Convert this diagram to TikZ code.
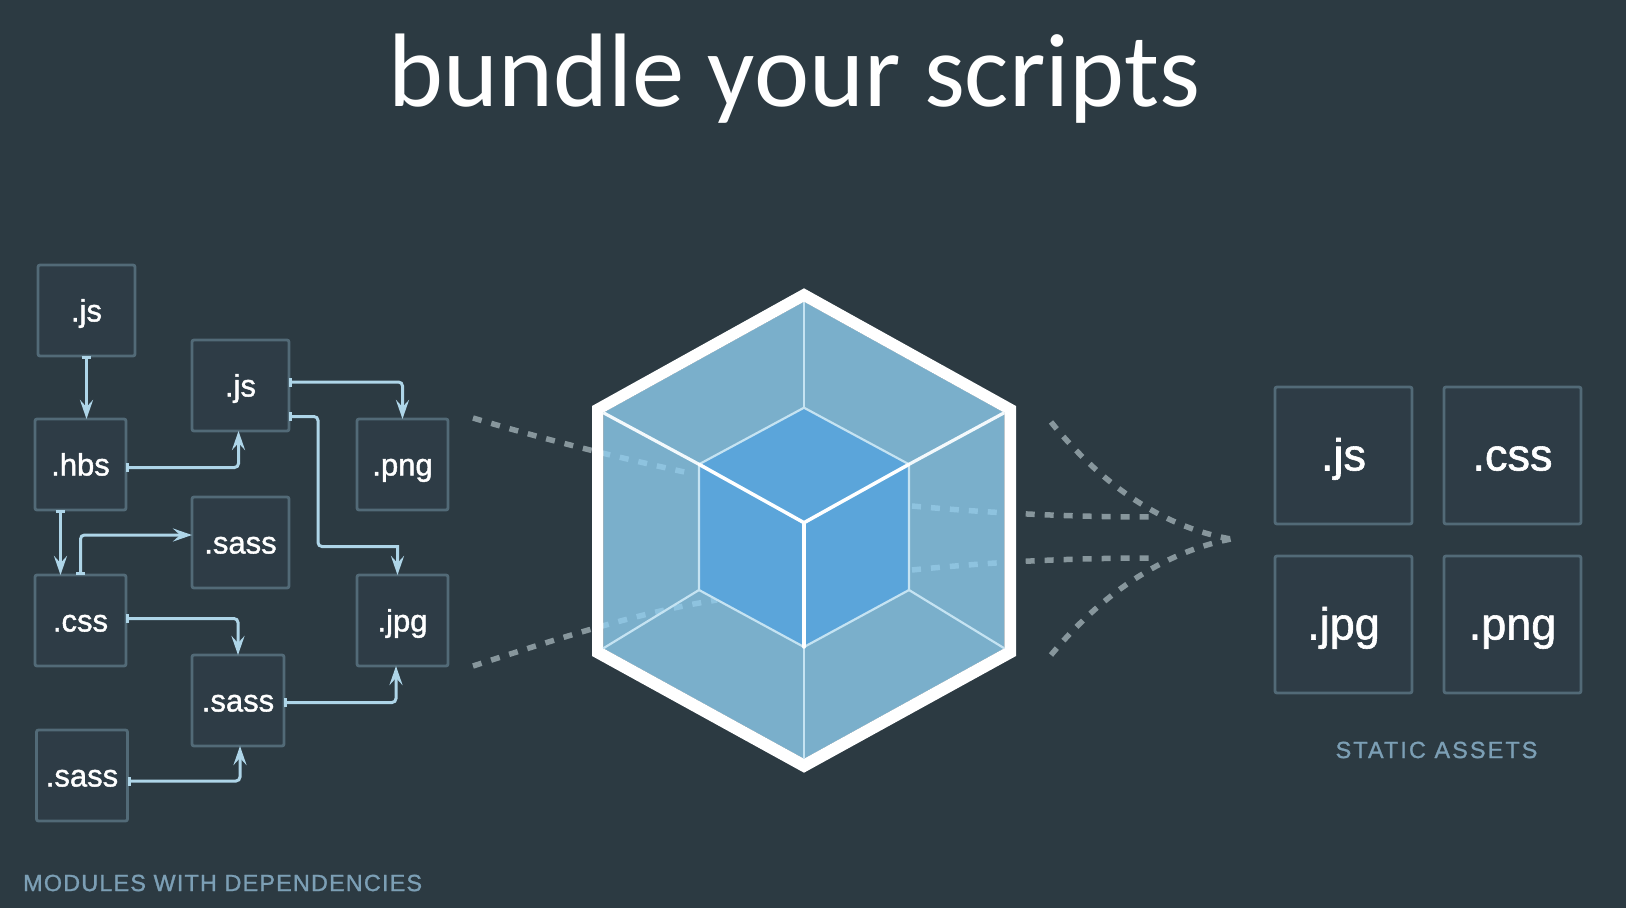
\documentclass[tikz,border=0pt]{standalone}
\usepackage{fontspec}
\usetikzlibrary{positioning, arrows.meta}
\setmainfont{Liberation Sans}
\newfontfamily\titlefont{Carlito}
\newfontfamily\boxfont[FakeBold=1.3]{Liberation Sans}
\newfontfamily\capsfont[LetterSpace=5,FakeBold=1.2]{Liberation Sans}
\newfontfamily\capswide[LetterSpace=9,FakeBold=1.2]{Liberation Sans}
\definecolor{pagebg}{HTML}{2C3A42}
\definecolor{boxfill}{HTML}{2E3C46}
\definecolor{boxline}{HTML}{526A77}
\definecolor{linkblue}{HTML}{AED5E8}
\definecolor{capblue}{HTML}{7C9FB5}
\definecolor{dashgrey}{HTML}{87969C}
\definecolor{facelight}{HTML}{91D0F2}
\definecolor{cubeblue}{HTML}{5BA5DA}
\definecolor{edgelight}{HTML}{C5E3F2}
\tikzset{
	modbox/.style={draw=boxline, fill=boxfill, line width=2.8pt, rounded corners=2pt, outer sep=0pt, inner sep=0pt,
		minimum width=91pt, minimum height=91pt, text=white, font=\boxfont\fontsize{31}{31}\selectfont, text height=23pt, text depth=1pt},
	assetbox/.style={modbox, minimum width=137pt, minimum height=137pt, font=\boxfont\fontsize{45}{45}\selectfont, text height=33pt, text depth=3pt},
	caplabel/.style={text=capblue, inner sep=0pt, font=\capsfont\fontsize{23.4}{24}\selectfont},
	link/.style={draw=linkblue, line width=3pt, rounded corners=4pt, {Bar[width=9pt]}-{Stealth[length=19pt,width=13pt,inset=7pt]}},
	flow/.style={draw=dashgrey, line width=5.5pt, dash pattern=on 9pt off 10pt},
	thinedge/.style={draw=edgelight, line width=2.2pt},
	spoke/.style={draw=white!80!edgelight, line width=3.2pt},
	thickedge/.style={draw=white, line width=3.5pt, line cap=round},
}
\begin{document}
\begin{tikzpicture}[x=1pt, y=-1pt]
	\useasboundingbox (0,0) rectangle (1626,908);
	\fill[pagebg] (0,0) rectangle (1626,908);
	%
	\node[text=white, inner sep=0pt, font=\titlefont\fontsize{104.5}{104.5}\selectfont] (title) at (794.5,79) {bundle your scripts};
	%
	\node[modbox, minimum width=97pt] (jsa) at (86.5,310.5) {.js};
	\node[modbox, below=63pt of jsa, xshift=-6pt] (hbs) {.hbs};
	\node[modbox, below=65pt of hbs] (css) {.css};
	\node[modbox, below=64pt of css, xshift=1.5pt] (sassc) {.sass};
	\node[modbox, minimum width=97pt, right=57pt of jsa, yshift=-75pt] (jsb) {.js};
	\node[modbox, minimum width=97pt, below=66pt of jsb] (sassa) {.sass};
	\node[modbox, minimum width=92pt, below=67pt of sassa, xshift=-2.5pt] (sassb) {.sass};
	\node[modbox, right=68pt of jsb, yshift=-79pt] (png) {.png};
	\node[modbox, below=65pt of png] (jpg) {.jpg};
	\node[caplabel, anchor=west] (modules) at (23,883) {MODULES WITH DEPENDENCIES};
	%
	\draw[link] (jsa.south) -- (jsa.south |- hbs.north);
	\draw[link] ([yshift=-3pt]hbs.east) -| ([xshift=-2pt]jsb.south);
	\draw[link] ([yshift=3.5pt]jsb.east) -| (png.north);
	\draw[link] ([yshift=-31pt]jsb.east) -- ++(29,0) -- ++(0,130) [rounded corners=5pt] -- ++(20,0) [sharp corners] -| ([xshift=-5pt]jpg.north);
	\draw[link] ([xshift=-20pt]hbs.south) -- ([xshift=-20pt]css.north);
	\draw[link] (css.north) |- ([yshift=7.5pt]sassa.west);
	\draw[link] ([yshift=2pt]css.east) -| (sassb.north);
	\draw[link] ([yshift=-2pt]sassb.east) -| ([xshift=-6.5pt]jpg.south);
	\draw[link] ([yshift=-5.5pt]sassc.east) -| ([xshift=2pt]sassb.south);
	%
	\coordinate (ta) at (804,288.3);
	\coordinate (tb) at (1016,406);
	\coordinate (tc) at (1016,656);
	\coordinate (td) at (804,772.7);
	\coordinate (te) at (592,656);
	\coordinate (tf) at (592,406);
	\coordinate (ia) at (804,301.7);
	\coordinate (ib) at (1004.3,412.7);
	\coordinate (ic) at (1004.3,648.3);
	\coordinate (id) at (804,758.7);
	\coordinate (ie) at (603.3,648.3);
	\coordinate (if) at (603.3,412.7);
	\coordinate (ca) at (804,407.7);
	\coordinate (cb) at (909,464.3);
	\coordinate (cc) at (909,590);
	\coordinate (cd) at (804,647);
	\coordinate (ce) at (699,590);
	\coordinate (cf) at (699,464.3);
	\coordinate (cm) at (804,522.7);
	\coordinate (outa) at (473,418);
	\coordinate (outb) at (473,666);
	\coordinate (joint) at (1231,539);
	%
	\draw[flow] (outa) .. controls (560,444) and (630,460) .. (689,473);
	\draw[flow] (outb) .. controls (560,638) and (640,612) .. (717,600);
	\draw[flow] (912,506) .. controls (1000,514) and (1080,517) .. (1155,517);
	\draw[flow] (912,570) .. controls (1000,561) and (1080,558) .. (1155,558);
	\draw[flow] (1051,422) .. controls (1090,470) and (1150,525) .. (joint);
	\draw[flow] (1051,655) .. controls (1090,608) and (1150,555) .. (joint);
	%
	\fill[facelight, opacity=.78] (ia) -- (ib) -- (ic) -- (id) -- (ie) -- (if) -- cycle;
	\fill[white, even odd rule] (ta) -- (tb) -- (tc) -- (td) -- (te) -- (tf) -- cycle (ia) -- (ib) -- (ic) -- (id) -- (ie) -- (if) -- cycle;
	\fill[cubeblue] (ca) -- (cb) -- (cc) -- (cd) -- (ce) -- (cf) -- cycle;
	\draw[thinedge] (ia) -- (ca);
	\draw[thinedge] (id) -- (cd);
	\draw[thinedge] (ie) -- (ce);
	\draw[thinedge] (ic) -- (cc);
	\draw[spoke] (if) -- (cf);
	\draw[spoke] (ib) -- (cb);
	\draw[thinedge] (cf) -- (ca) -- (cb) -- (cc) -- (cd) -- (ce) -- cycle;
	\draw[thickedge] (cf) -- (cm) -- (cb);
	\draw[thickedge] (cm) -- (cd);
	%
	\node[assetbox] (jsc) at (1343.5,455.5) {.js};
	\node[assetbox, right=32pt of jsc] (cssb) {.css};
	\node[assetbox, below=32pt of jsc] (jpgb) {.jpg};
	\node[assetbox, below=32pt of cssb] (pngb) {.png};
	\node[caplabel, font=\capswide\fontsize{23.4}{24}\selectfont] (assets) at (1436.5,750) {STATIC ASSETS};
\end{tikzpicture}
\end{document}
